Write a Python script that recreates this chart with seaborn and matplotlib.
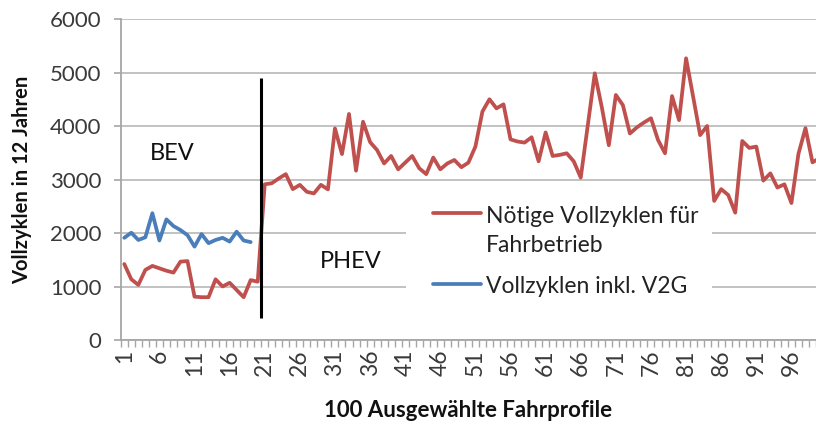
import numpy as np
import pandas as pd
import matplotlib
matplotlib.use("Agg")
import matplotlib.pyplot as plt
import seaborn as sns
from matplotlib.lines import Line2D
from matplotlib.patches import Rectangle

# ------------------------------------------------------------
# Data
# ------------------------------------------------------------

# needed full cycles, profiles 1-20 (BEV)
needed_bev = [1420, 1135, 1030, 1310, 1385, 1340, 1295, 1260, 1465, 1475,
              810, 800, 800, 1135, 1000, 1070, 935, 800, 1120, 1090]

# needed full cycles, profiles 21-100 (PHEV)
needed_phev = [2910, 2930, 3020, 3100, 2820, 2900, 2770, 2740, 2900, 2815,
               3955, 3475, 4225, 3165, 4080, 3700, 3550, 3300, 3440, 3190,
               3315, 3440, 3210, 3100, 3410, 3190, 3300, 3365, 3230, 3315,
               3615, 4270, 4500, 4330, 4405, 3750, 3710, 3690, 3790, 3340,
               3880, 3440, 3460, 3490, 3340, 3035, 4010, 4985, 4350, 3640,
               4580, 4390, 3860, 3975, 4065, 4145, 3740, 3490, 4560, 4110,
               5265, 4550, 3830, 4000, 2600, 2820, 2710, 2380, 3720, 3590,
               3615, 2980, 3115, 2850, 2910, 2560, 3480, 3960, 3320, 3400]

# full cycles incl. V2G (BEV profiles 1-19)
v2g_bev = [1910, 2005, 1870, 1920, 2370, 1860, 2255, 2130, 2055, 1960,
           1745, 1980, 1810, 1870, 1910, 1840, 2025, 1860, 1830]

needed_cycles = needed_bev + needed_phev
profiles = list(range(1, len(needed_cycles) + 1))
v2g_profiles = list(range(1, len(v2g_bev) + 1))

x_tick_values = list(range(1, 100, 5))
y_tick_values = [0, 1000, 2000, 3000, 4000, 5000, 6000]

label_needed = "Nötige Vollzyklen für"
label_needed_2 = "Fahrbetrieb"
label_v2g = "Vollzyklen inkl. V2G"

# ------------------------------------------------------------
# Plot
# ------------------------------------------------------------
sns.set_style("white")
plt.rcParams["font.family"] = ["Lato", "DejaVu Sans"]

red = "#C0504D"
blue = "#4A7EBB"
grey_text = "#3A3A3A"

fig = plt.figure(figsize=(8.16, 4.30), dpi=100)
ax = fig.add_axes([0.148, 0.2093, 0.852, 0.7465])

sns.lineplot(x=profiles, y=needed_cycles, color=red, linewidth=2.7,
             ax=ax, zorder=3)
sns.lineplot(x=v2g_profiles, y=v2g_bev, color=blue, linewidth=2.7,
             ax=ax, zorder=3)

# BEV / PHEV separator
ax.vlines(20.5, 420, 4900, color="black", linewidth=2.2, zorder=4)
ax.text(7.9, 3495, "BEV", fontsize=17, color="#111111",
        ha="center", va="center")
ax.text(33.2, 1458, "PHEV", fontsize=17, color="#111111",
        ha="center", va="center")

ax.set_xlim(0.5, 99.15)
ax.set_ylim(0, 6000)

# axes styling
ax.yaxis.grid(True, color="#BDBDBD", linewidth=1.3)
ax.xaxis.grid(False)
ax.set_axisbelow(True)
for side in ["top", "right"]:
    ax.spines[side].set_visible(False)
for side in ["left", "bottom"]:
    ax.spines[side].set_color("#A6A6A6")
    ax.spines[side].set_linewidth(1.3)

ax.set_yticks(y_tick_values)
ax.set_yticklabels([str(v) for v in y_tick_values])
ax.tick_params(axis="y", length=5, width=1.2, color="#A6A6A6",
               labelsize=16, labelcolor=grey_text, pad=9, left=True)

ax.set_xticks(x_tick_values)
ax.set_xticklabels([str(v) for v in x_tick_values], rotation=90)
ax.set_xticks(np.arange(0.5, 100, 1), minor=True)
ax.tick_params(axis="x", which="major", length=0, labelsize=16.5,
               labelcolor=grey_text, pad=7)
ax.tick_params(axis="x", which="minor", length=5, width=1.0,
               color="#A6A6A6", bottom=True)

ax.set_xlabel("100 Ausgewählte Fahrprofile", fontsize=16, fontweight="bold",
              color="#111111", labelpad=17)
ax.set_ylabel("Vollzyklen in 12 Jahren", fontsize=14.5, fontweight="bold",
              color="#111111", labelpad=13)

# legend drawn by hand (white box hides the grid lines)
ax.add_patch(Rectangle((0.410, 0.125), 0.440, 0.327, transform=ax.transAxes,
                       facecolor="white", edgecolor="none", zorder=1.5))
ax.add_line(Line2D([0.449, 0.518], [0.396, 0.396], transform=ax.transAxes,
                   color=red, linewidth=2.7, zorder=3))
ax.add_line(Line2D([0.449, 0.518], [0.174, 0.174], transform=ax.transAxes,
                   color=blue, linewidth=2.7, zorder=3))
ax.text(0.525, 0.3925, label_needed, transform=ax.transAxes, fontsize=16.5,
        color="#222222", va="center_baseline", ha="left")
ax.text(0.525, 0.302, label_needed_2, transform=ax.transAxes, fontsize=16.5,
        color="#222222", va="center_baseline", ha="left")
ax.text(0.525, 0.174, label_v2g, transform=ax.transAxes, fontsize=16.5,
        color="#222222", va="center_baseline", ha="left")

fig.savefig("out.png", dpi=100)
